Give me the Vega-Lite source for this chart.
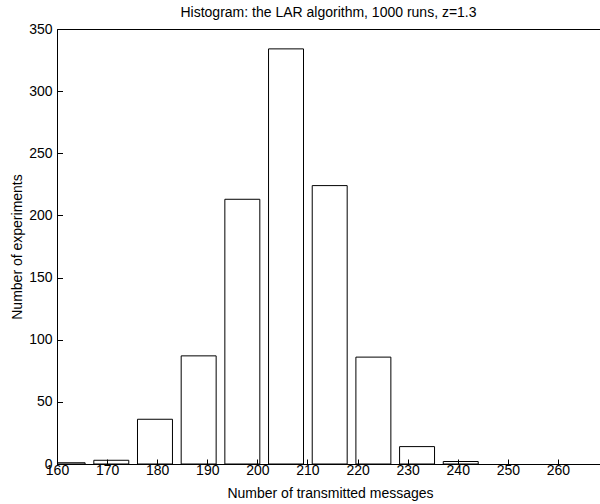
{
  "$schema": "https://vega.github.io/schema/vega-lite/v6.json",
  "width": 543,
  "height": 435,
  "autosize": {"type": "none"},
  "padding": {"left": 57, "top": 29, "right": 0, "bottom": 40},
  "background": "white",
  "config": {
    "view": {"stroke": "black", "strokeWidth": 1},
    "font": "Liberation Sans"
  },
  "title": {
    "text": "Histogram: the LAR algorithm, 1000 runs, z=1.3",
    "fontSize": 14,
    "fontWeight": "normal",
    "font": "Liberation Sans",
    "color": "black",
    "anchor": "middle",
    "offset": 2
  },
  "data": {
    "values": [
      {"bin_start": 158.63, "bin_end": 165.61, "count": 1},
      {"bin_start": 167.35, "bin_end": 174.33, "count": 3},
      {"bin_start": 176.07, "bin_end": 183.05, "count": 36},
      {"bin_start": 184.79, "bin_end": 191.77, "count": 87},
      {"bin_start": 193.51, "bin_end": 200.49, "count": 213},
      {"bin_start": 202.23, "bin_end": 209.21, "count": 334},
      {"bin_start": 210.95, "bin_end": 217.93, "count": 224},
      {"bin_start": 219.67, "bin_end": 226.65, "count": 86},
      {"bin_start": 228.39, "bin_end": 235.37, "count": 14},
      {"bin_start": 237.11, "bin_end": 244.09, "count": 2}
    ]
  },
  "mark": {"type": "rect", "fill": "white", "stroke": "black", "strokeWidth": 1, "clip": true},
  "encoding": {
    "x": {
      "field": "bin_start",
      "type": "quantitative",
      "scale": {"domain": [160, 268.4], "nice": false, "zero": false},
      "axis": {
        "values": [160, 170, 180, 190, 200, 210, 220, 230, 240, 250, 260],
        "grid": false,
        "zindex": 1,
        "tickSize": -5,
        "tickColor": "black",
        "domainColor": "black",
        "labelFontSize": 14,
        "labelColor": "black",
        "labelBaseline": "alphabetic",
        "labelPadding": 15,
        "labelFlush": false,
        "labelOverlap": false,
        "title": "Number of transmitted messages",
        "titleFontSize": 14,
        "titleFontWeight": "normal",
        "titleColor": "black",
        "titleX": 273,
        "titleY": 33.7,
        "titleBaseline": "alphabetic",
        "titleAnchor": "middle"
      }
    },
    "x2": {"field": "bin_end"},
    "y": {
      "field": "count",
      "type": "quantitative",
      "scale": {"domain": [0, 350], "nice": false},
      "axis": {
        "values": [0, 50, 100, 150, 200, 250, 300, 350],
        "grid": false,
        "zindex": 1,
        "tickSize": -5.5,
        "tickColor": "black",
        "domainColor": "black",
        "labelFontSize": 14,
        "labelColor": "black",
        "labelPadding": 10.5,
        "labelFlush": false,
        "labelOverlap": false,
        "title": "Number of experiments",
        "titleFontSize": 14,
        "titleFontWeight": "normal",
        "titleColor": "black",
        "titleAngle": -90,
        "titleX": -35.5,
        "titleY": 217.5,
        "titleBaseline": "alphabetic",
        "titleAnchor": "middle"
      }
    },
    "y2": {"datum": 0}
  }
}
